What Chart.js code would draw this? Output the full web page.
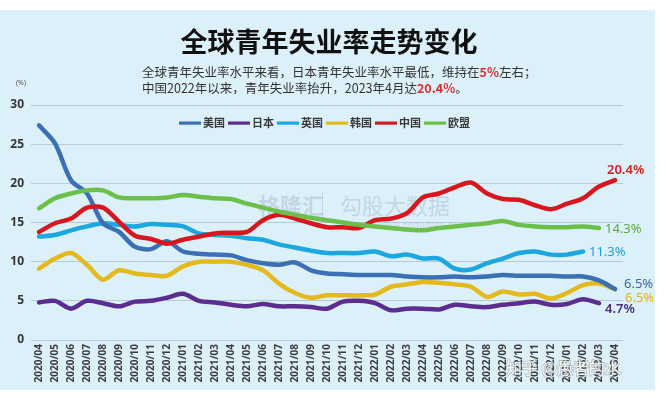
<!DOCTYPE html>
<html>
<head>
<meta charset="utf-8">
<script src="https://cdn.jsdelivr.net/npm/chart.js@4.4.1/dist/chart.umd.min.js"></script>
<style>
html,body{margin:0;padding:0;background:#fff;}
canvas{display:block;}
</style>
</head>
<body>
<canvas id="c" width="666" height="398"></canvas>
<script>
// ---------- data ----------
const months = [
  '2020/04','2020/05','2020/06','2020/07','2020/08','2020/09','2020/10','2020/11','2020/12',
  '2021/01','2021/02','2021/03','2021/04','2021/05','2021/06','2021/07','2021/08','2021/09',
  '2021/10','2021/11','2021/12','2022/01','2022/02','2022/03','2022/04','2022/05','2022/06',
  '2022/07','2022/08','2022/09','2022/10','2022/11','2022/12','2023/01','2023/02','2023/03','2023/04'
];
const seriesNames = ['美国','日本','英国','韩国','中国','欧盟'];
const usa = [27.4,25.1,20.4,18.7,14.9,13.8,11.9,11.6,12.6,11.3,11.0,10.9,10.8,10.2,9.8,9.6,9.9,8.9,8.5,8.4,8.3,8.3,8.3,8.1,8.0,8.0,8.1,8.0,8.1,8.3,8.2,8.2,8.2,8.1,8.1,7.6,6.5];
const japan = [4.8,5.0,4.0,5.0,4.7,4.3,4.9,5.0,5.4,5.9,5.0,4.8,4.5,4.3,4.6,4.3,4.3,4.2,4.0,4.9,5.0,4.7,3.8,4.0,4.0,3.9,4.5,4.3,4.2,4.5,4.7,4.9,4.5,4.6,5.2,4.7,null];
const uk = [13.2,13.4,14.0,14.5,14.9,14.7,14.5,14.8,14.7,14.5,13.6,13.4,13.3,13.0,12.8,12.2,11.8,11.4,11.1,11.1,11.1,11.3,10.7,10.9,10.4,10.4,9.1,9.0,9.8,10.4,11.1,11.3,10.9,10.9,11.3,null,null];
const korea = [9.1,10.4,11.1,9.6,7.7,8.9,8.5,8.3,8.2,9.4,10.0,10.0,10.0,9.6,8.9,7.2,6.0,5.4,5.7,5.7,5.7,5.8,6.8,7.1,7.4,7.3,7.1,6.8,5.5,6.2,5.8,5.9,5.3,6.0,7.0,7.2,6.5];
const china = [13.8,14.9,15.5,16.9,16.9,15.1,13.3,12.9,12.3,12.8,13.2,13.6,13.7,13.8,15.3,16.0,15.5,14.9,14.4,14.4,14.3,15.3,15.5,16.2,18.2,18.7,19.5,20.1,18.7,18.0,17.9,17.2,16.7,17.4,18.1,19.6,20.4];
const eu = [16.8,18.1,18.7,19.1,19.1,18.2,18.1,18.1,18.2,18.5,18.3,18.1,18.0,17.4,16.9,16.4,16.0,15.6,15.3,15.0,14.7,14.5,14.3,14.1,14.0,14.3,14.5,14.7,14.9,15.2,14.7,14.5,14.4,14.4,14.5,14.3,null];
const yTicks = [0,5,10,15,20,25,30];
const endLabels = ['6.5%','4.7%','11.3%','6.5%','20.4%','14.3%'];

const title = '全球青年失业率走势变化';
const subLine1 = [['全球青年失业率水平来看，日本青年失业率水平最低，维持在',false],['5%',true],['左右；',false]];
const subLine2 = [['中国2022年以来，青年失业率抬升，2023年4月达',false],['20.4%',true],['。',false]];

// ---------- styles ----------
const colors = ['#3b6fb6','#5a2d8e','#1ba7df','#e3b91d','#d7161d','#6dbf4b'];
const labelColors = ['#3a68ad','#4a2a82','#1d9fd6','#dcb21c','#cf1f22','#5aa83c'];
const drawOrder = [3,6,4,5,2,1];
const labelOffsets = [[9,-5],[6,6],[6,1],[10,9],[-8,-10],[6,1]];
const seriesData = [usa,japan,uk,korea,china,eu];

const CJK = '"Noto Sans CJK SC","Noto Sans",sans-serif';

const decoPlugin = {
  id:'deco',
  beforeDraw(chart){
    const ctx = chart.ctx;
    ctx.save();
    ctx.fillStyle = '#ffffff';
    ctx.fillRect(0,0,chart.width,chart.height);
    ctx.fillStyle = '#dcf0f9';
    ctx.fillRect(0,10,655,380);
    // faint watermark in the middle
    ctx.fillStyle = 'rgba(140,165,190,0.35)';
    ctx.font = 'bold 22px '+CJK;
    ctx.textBaseline = 'middle';
    ctx.fillText('格隆汇', 258, 206);
    ctx.fillRect(322,192,1,28);
    ctx.font = '22px '+CJK;
    ctx.fillText('勾股大数据', 340, 206);
    ctx.font = '9px "DejaVu Sans",sans-serif';
    ctx.fillText('www.gogudata.com', 378, 226);
    ctx.restore();
  },
  afterDraw(chart){
    const ctx = chart.ctx;
    ctx.save();
    // title
    ctx.fillStyle = '#111';
    ctx.font = 'bold 27px '+CJK;
    ctx.textAlign = 'center';
    ctx.textBaseline = 'middle';
    ctx.fillText(title, 329, 42);
    // subtitle
    ctx.textAlign = 'left';
    const drawRich = (parts, x, y) => {
      parts.forEach(([t,hi]) => {
        ctx.font = (hi?'bold ':'')+'12.5px '+CJK;
        ctx.fillStyle = hi ? '#e02a2e' : '#333';
        ctx.fillText(t, x, y);
        x += ctx.measureText(t).width;
      });
    };
    drawRich(subLine1, 142, 72.5);
    drawRich(subLine2, 142, 88);
    // unit
    ctx.fillStyle = '#555';
    ctx.font = '7px "Noto Sans",sans-serif';
    ctx.textAlign = 'center';
    ctx.fillText('(%)', 21, 83);
    // legend
    ctx.textAlign = 'left';
    ctx.font = 'bold 11px '+CJK;
    let lx = 179;
    const ly = 123;
    chart.data.datasets.forEach((ds) => {
      ctx.fillStyle = ds.borderColor;
      ctx.fillRect(lx, ly-1.5, 22, 3.2);
      lx += 24;
      ctx.fillStyle = '#3a3a3a';
      ctx.fillText(ds.label, lx, ly);
      lx += ctx.measureText(ds.label).width + 3;
    });
    // end labels
    ctx.font = '13px "Noto Sans",sans-serif';
    chart.data.datasets.forEach((ds, i) => {
      const meta = chart.getDatasetMeta(i);
      let last = -1;
      ds.data.forEach((v, k) => { if (v !== null) last = k; });
      const pt = meta.data[last];
      const off = labelOffsets[i];
      ctx.fillStyle = labelColors[i];
      ctx.font = (i===4||i===1 ? '600 ' : '')+'13px "Noto Sans",sans-serif';
      ctx.fillText(ds.endLabel, pt.x + off[0], pt.y + off[1]);
    });
    // bottom watermark
    ctx.font = '16px '+CJK;
    ctx.lineWidth = 2;
    ctx.strokeStyle = 'rgba(120,120,120,0.35)';
    ctx.strokeText('知乎 @愚者的水', 506, 368);
    ctx.fillStyle = 'rgba(255,255,255,0.9)';
    ctx.fillText('知乎 @愚者的水', 506, 368);
    ctx.restore();
  }
};

new Chart(document.getElementById('c'), {
  type:'line',
  data:{
    labels: months,
    datasets: seriesNames.map((name,i) => ({
      label: name,
      data: seriesData[i],
      borderColor: colors[i],
      backgroundColor: colors[i],
      borderWidth: 4.5,
      pointRadius: 0,
      tension: 0.3,
      borderCapStyle:'round',
      borderJoinStyle:'round',
      spanGaps:false,
      order: drawOrder[i],
      endLabel: endLabels[i]
    }))
  },
  options:{
    responsive:false,
    devicePixelRatio:1,
    animation:false,
    layout:{padding:{top:105,right:43,bottom:0,left:0}},
    plugins:{legend:{display:false},tooltip:{enabled:false},title:{display:false}},
    scales:{
      x:{
        type:'category',
        offset:true,
        grid:{display:false,drawTicks:false},
        border:{display:false},
        ticks:{
          autoSkip:false,minRotation:90,maxRotation:90,padding:4,
          color:'#3a3a3a',font:{family:'"Noto Sans",sans-serif',size:10,weight:'bold'}
        },
        afterFit(s){ s.height = 58; }
      },
      y:{
        min:0,max:30,
        afterBuildTicks(s){ s.ticks = yTicks.map(v=>({value:v})); },
        grid:{color:'#b7cbd6',lineWidth:1,drawTicks:false},
        border:{display:false},
        ticks:{padding:7,color:'#333',font:{family:'"Noto Sans",sans-serif',size:12,weight:'bold'}},
        afterFit(s){ s.width = 31; }
      }
    }
  },
  plugins:[decoPlugin]
});
</script>
</body>
</html>
